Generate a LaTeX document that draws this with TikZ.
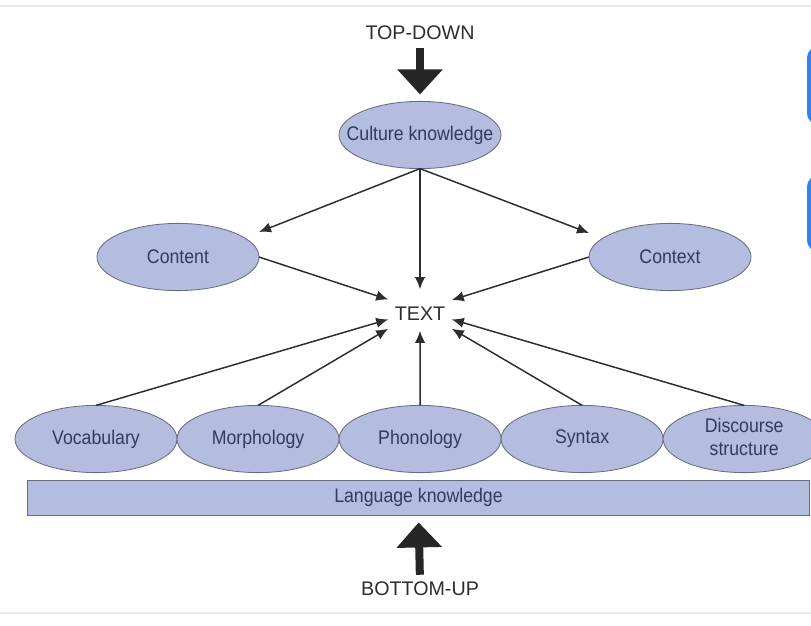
\documentclass[tikz,border=0pt]{standalone}
\usepackage{fontspec}
\usepackage{xcolor}
\usepackage{tikz}
\usetikzlibrary{arrows.meta, positioning, shapes.geometric, calc}
\setmainfont{Liberation Sans}
\newfontfamily\narrowsans[FakeStretch=0.9]{Liberation Sans}
\definecolor{bubblefill}{RGB}{180,189,224}
\definecolor{bubbleline}{RGB}{105,108,125}
\definecolor{inktext}{RGB}{52,58,92}
\definecolor{arrowgray}{RGB}{45,45,45}
\definecolor{screenblue}{RGB}{48,128,240}
\definecolor{framegray}{RGB}{232,232,232}
\newcommand{\inbubble}[1]{\makebox[0pt]{#1}}

\begin{document}
\begin{tikzpicture}[
    x=0.025cm, y=-0.025cm,
    node distance=0cm,
    bubble/.style={
        ellipse,
        draw=bubbleline,
        fill=bubblefill,
        line width=0.6pt,
        minimum width=4.05cm,
        minimum height=1.68cm,
        inner sep=0pt,
        outer sep=0pt,
        text=inktext,
        font=\narrowsans\fontsize{14}{16.5}\selectfont
    },
    langbar/.style={
        rectangle,
        draw=bubbleline,
        fill=bubblefill,
        line width=0.6pt,
        minimum width=19.525cm,
        minimum height=0.875cm,
        inner sep=0pt,
        text=inktext,
        font=\narrowsans\fontsize{14}{16.5}\selectfont
    },
    flowlabel/.style={inner sep=0pt, text=arrowgray, font=\fontsize{14}{16}\selectfont},
    arrow/.style={-{Latex[length=0.3cm,width=0.26cm]}, line width=1.05pt, color=arrowgray},
    bigarrow/.style={-{Triangle[length=0.625cm,width=1.1cm]}, line width=0.2cm, color=black!85}
]

\useasboundingbox (0,0) rectangle (811,626);
\draw[framegray, line width=1.5pt] (0,6) -- (811,6);
\draw[framegray, line width=1.5pt] (0,613) -- (811,613);
\draw[screenblue, line width=0.1cm, rounded corners=0.25cm] (809,48) rectangle (850,123);
\draw[screenblue, line width=0.1cm, rounded corners=0.25cm] (809,177) rectangle (850,250);

\node[flowlabel] (topdown) at (420,33) {TOP-DOWN};
\node[bubble] (culture) at (420,135) {\inbubble{Culture knowledge}};
\node[bubble] (content) at (178,257) {\inbubble{Content}};
\node[bubble] (context) at (670,257) {\inbubble{Context}};
\node[flowlabel, rectangle, minimum width=1.575cm, minimum height=1.025cm,
      text height=15.6pt, text depth=0pt] (text) at (420,310) {TEXT};

\node[bubble] (vocab) at (96,439) {\inbubble{Vocabulary}};
\node[bubble, right=of vocab] (morph) {\inbubble{Morphology}};
\node[bubble, right=of morph] (phon) {\inbubble{Phonology}};
\node[bubble, right=of phon] (syntax) {\inbubble{Syntax}};
\node[bubble, right=of syntax] (discourse) {\inbubble{\begin{tabular}{@{}c@{}}Discourse\\structure\end{tabular}}};
\node[langbar] (lang) at (418.5,497.5) {Language knowledge};
\node[flowlabel] (bottomup) at (420,589) {BOTTOM-UP};

\draw[bigarrow, shorten <=0.2cm, shorten >=0.175cm] (topdown.south) -- (culture.north);
\draw[bigarrow, shorten <=0.175cm, shorten >=0.175cm] (bottomup.north) -- (lang.south);

\draw[arrow] (culture.south) -- ([yshift=0.625cm]content.east);
\draw[arrow] (culture.south) -- ([yshift=0.6cm]context.west);
\draw[arrow] (culture.south) -- (text);
\draw[arrow] (content.east) -- (text);
\draw[arrow] (context.west) -- (text);
\draw[arrow] (vocab.north) -- (text);
\draw[arrow] (morph.north) -- (text);
\draw[arrow] (phon.north) -- (text);
\draw[arrow] (syntax.north) -- (text);
\draw[arrow] (discourse.north) -- (text);

\end{tikzpicture}
\end{document}
